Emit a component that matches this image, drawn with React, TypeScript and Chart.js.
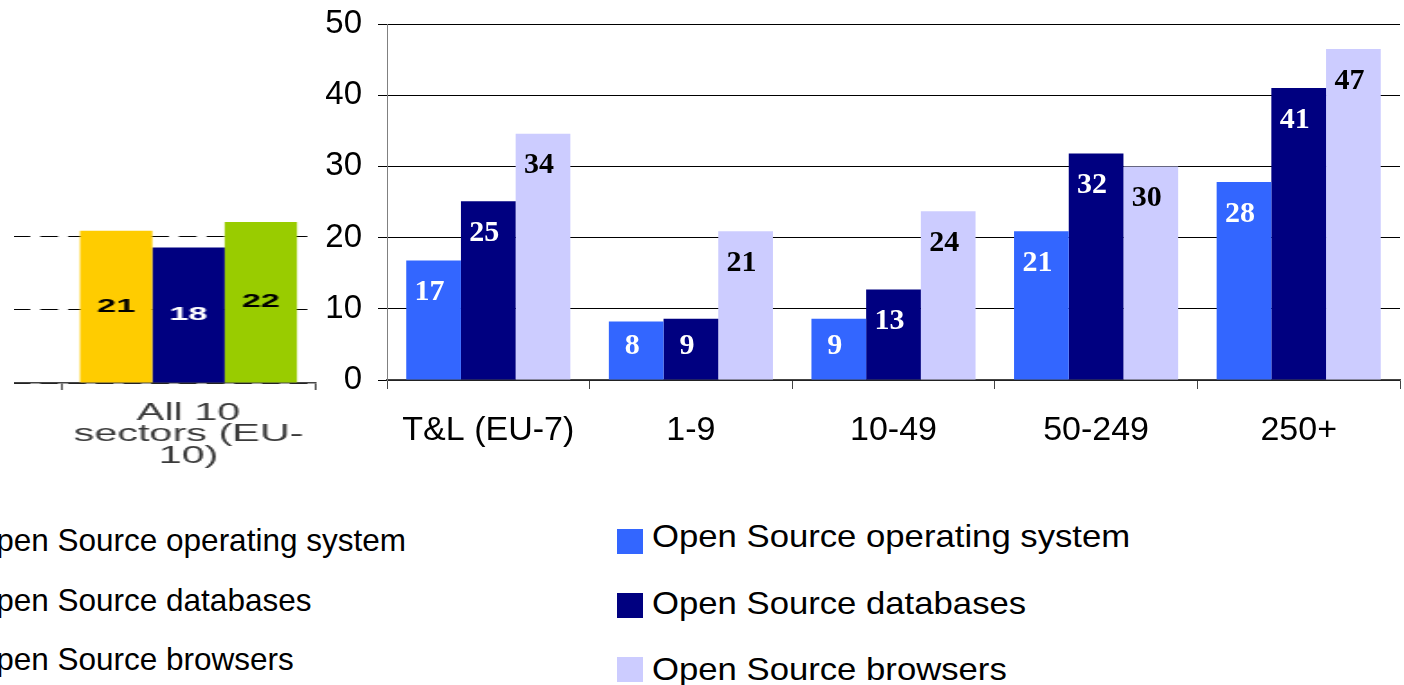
import React, { useEffect, useRef } from "react";
import { Chart, registerables } from "chart.js";

Chart.register(...registerables);

// ---------- Data: main chart ----------
const categories = ["T&L (EU-7)", "1-9", "10-49", "50-249", "250+"];
const seriesNames = [
  "Open Source operating system",
  "Open Source databases",
  "Open Source browsers",
];
const osValues = [16.8, 8.2, 8.6, 20.9, 27.8];
const dbValues = [25.1, 8.6, 12.7, 31.8, 41.0];
const browserValues = [34.6, 20.9, 23.7, 30.0, 46.5];
const osLabels = ["17", "8", "9", "21", "28"];
const dbLabels = ["25", "9", "13", "32", "41"];
const browserLabels = ["34", "21", "24", "30", "47"];
const yMin = 0;
const yMax = 50;
const yStep = 10;

// ---------- Data: "All 10 sectors" chart (cropped, left) ----------
const allSectorsCategory = ["All 10", "sectors (EU-", "10)"];
const allSectorsValues = [20.8, 18.5, 22.0];
const allSectorsLabels = ["21", "18", "22"];

// ---------- Styles ----------
const seriesColors = ["#3366FF", "#000080", "#CCCCFF"];
const labelColors = ["#FFFFFF", "#FFFFFF", "#000000"];
const allSectorsColors = ["#FFCC00", "#000080", "#99CC00"];
const allSectorsLabelColors = ["#000000", "#FFFFFF", "#000000"];
const SANS = "'Liberation Sans', Arial, Helvetica, sans-serif";
const SERIF = "'Liberation Serif', 'Times New Roman', serif";

const barLabelPlugin = {
  id: "barLabels",
  afterDatasetsDraw(chart: any, _args: any, opts: any) {
    if (!opts || !opts.labels) return;
    const ctx = chart.ctx;
    ctx.save();
    ctx.font = opts.font;
    ctx.textAlign = "center";
    ctx.textBaseline = "middle";
    chart.data.datasets.forEach((_ds: any, di: number) => {
      const meta = chart.getDatasetMeta(di);
      const labels = opts.labels[di] || [];
      meta.data.forEach((bar: any, i: number) => {
        const text = labels[i];
        if (text == null || text === "") return;
        let y: number;
        if (opts.mode === "center") {
          y = (bar.y + bar.base) / 2;
        } else {
          y = Math.min(bar.y + opts.inset, bar.base - opts.inset - 1);
        }
        ctx.fillStyle = opts.colors[di];
        ctx.fillText(text, bar.x + (opts.dx || 0), y);
      });
    });
    ctx.restore();
  },
};

function MainChart() {
  const ref = useRef<HTMLCanvasElement>(null);
  useEffect(() => {
    const seriesValues = [osValues, dbValues, browserValues];
    const seriesLabels = [osLabels, dbLabels, browserLabels];
    const chart = new Chart(ref.current as HTMLCanvasElement, {
      type: "bar",
      data: {
        labels: categories,
        datasets: seriesNames.map((name, i) => ({
          label: name,
          data: seriesValues[i],
          backgroundColor: seriesColors[i],
          borderWidth: 0,
          categoryPercentage: 0.81,
          barPercentage: 1.0,
        })),
      },
      options: {
        responsive: false,
        animation: false,
        devicePixelRatio: 1,
        layout: { padding: { top: 24, right: 4, left: 0, bottom: 0 } },
        plugins: {
          legend: { display: false },
          tooltip: { enabled: false },
          barLabels: {
            labels: seriesLabels,
            colors: labelColors,
            font: `bold 30px ${SERIF}`,
            mode: "insideEnd",
            inset: 32,
            dx: -4,
          },
        } as any,
        scales: {
          x: {
            grid: {
              display: true,
              drawOnChartArea: false,
              drawTicks: true,
              tickLength: 9,
              color: "#444",
              tickColor: "#444",
              offset: true,
            },
            border: { display: true, color: "#444", width: 1.5 },
            ticks: {
              color: "#000",
              font: { family: SANS, size: 34 },
              padding: 21,
              maxRotation: 0,
              autoSkip: false,
            },
            afterFit: (s: any) => {
              s.height = 90;
              s.paddingLeft = 0;
              s.paddingRight = 0;
            },
          },
          y: {
            min: yMin,
            max: yMax,
            ticks: {
              stepSize: yStep,
              color: "#000",
              font: { family: SANS, size: 33 },
              padding: 16,
            },
            grid: { color: "#000", lineWidth: 1, tickLength: 9, drawTicks: true },
            border: { display: true, color: "#808080", width: 1 },
            afterFit: (s: any) => {
              s.width = 87;
              s.paddingTop = 0;
              s.paddingBottom = 0;
            },
          },
        },
      },
      plugins: [barLabelPlugin],
    });
    return () => chart.destroy();
  }, []);
  return (
    <canvas
      ref={ref}
      width={1104}
      height={470}
      style={{ position: "absolute", left: 300, top: 0 }}
    />
  );
}

function AllSectorsChart() {
  const ref = useRef<HTMLCanvasElement>(null);
  useEffect(() => {
    const chart = new Chart(ref.current as HTMLCanvasElement, {
      type: "bar",
      data: {
        labels: ["", allSectorsCategory] as any,
        datasets: allSectorsColors.map((c, i) => ({
          label: seriesNames[i],
          data: [null, allSectorsValues[i]],
          backgroundColor: c,
          borderWidth: 0,
          categoryPercentage: 0.858,
          barPercentage: 1.0,
        })),
      },
      options: {
        responsive: false,
        animation: false,
        devicePixelRatio: 1,
        layout: { padding: { top: 17, right: 2.9, left: 0, bottom: 0 } },
        plugins: {
          legend: { display: false },
          tooltip: { enabled: false },
          barLabels: {
            labels: allSectorsLabels.map((l) => [null, l]),
            colors: allSectorsLabelColors,
            font: `bold 19px ${SANS}`,
            mode: "center",
            dx: 0,
          },
        } as any,
        scales: {
          x: {
            grid: {
              display: true,
              drawOnChartArea: false,
              drawTicks: true,
              tickLength: 7,
              color: "#444",
              tickColor: "#444",
              offset: true,
            },
            border: { display: true, color: "#444", width: 1.5 },
            ticks: {
              color: "#3a3a3a",
              font: { family: SANS, size: 23, lineHeight: 0.935 },
              padding: 12.5,
              maxRotation: 0,
              autoSkip: false,
            },
            afterFit: (s: any) => {
              s.height = 87;
              s.paddingLeft = 0;
              s.paddingRight = 0;
            },
          },
          y: {
            min: yMin,
            max: yMax,
            ticks: { display: false, stepSize: yStep },
            grid: { color: "#000", lineWidth: 1, drawTicks: false },
            border: { display: false, dash: [9.8, 5.6], dashOffset: 10.1 },
            afterFit: (s: any) => {
              s.width = 0;
              s.paddingTop = 0;
              s.paddingBottom = 0;
            },
          },
        },
      },
      plugins: [barLabelPlugin],
    });
    return () => chart.destroy();
  }, []);
  return (
    <div
      style={{
        position: "absolute",
        left: 14,
        top: 200,
        width: 310,
        height: 270,
        overflow: "hidden",
      }}
    >
      <div
        style={{
          position: "absolute",
          left: -205,
          top: -200,
          transform: "scaleX(1.8)",
          transformOrigin: "0 0",
        }}
      >
        <canvas ref={ref} width={284} height={470} style={{ display: "block" }} />
      </div>
    </div>
  );
}

const rightLegendTextTops = [516.4, 582.9, 649.4];
const rightLegendSquareTops = [529, 593, 657];
const leftLegendTextTops = [520.4, 579.9, 639.4];

function Legends() {
  return (
    <>
      {seriesNames.map((name, i) => (
        <div
          key={"ll" + i}
          style={{
            position: "absolute",
            left: -28.3,
            top: leftLegendTextTops[i],
            font: `31.5px ${SANS}`,
            lineHeight: "40px",
            whiteSpace: "nowrap",
            color: "#000",
          }}
        >
          {name}
        </div>
      ))}
      {seriesNames.map((name, i) => (
        <React.Fragment key={"rl" + i}>
          <div
            style={{
              position: "absolute",
              left: 617,
              top: rightLegendSquareTops[i],
              width: 26,
              height: 25,
              background: seriesColors[i],
            }}
          />
          <div
            style={{
              position: "absolute",
              left: 651.6,
              top: rightLegendTextTops[i],
              font: `32px ${SANS}`,
              lineHeight: "40px",
              whiteSpace: "nowrap",
              color: "#000",
              transform: "scaleX(1.084)",
              transformOrigin: "0 0",
            }}
          >
            {name}
          </div>
        </React.Fragment>
      ))}
    </>
  );
}

export default function App() {
  return (
    <div
      style={{
        position: "fixed",
        left: 0,
        top: 0,
        width: 1404,
        height: 685,
        overflow: "hidden",
        background: "#fff",
      }}
    >
      <AllSectorsChart />
      <MainChart />
      <Legends />
    </div>
  );
}
